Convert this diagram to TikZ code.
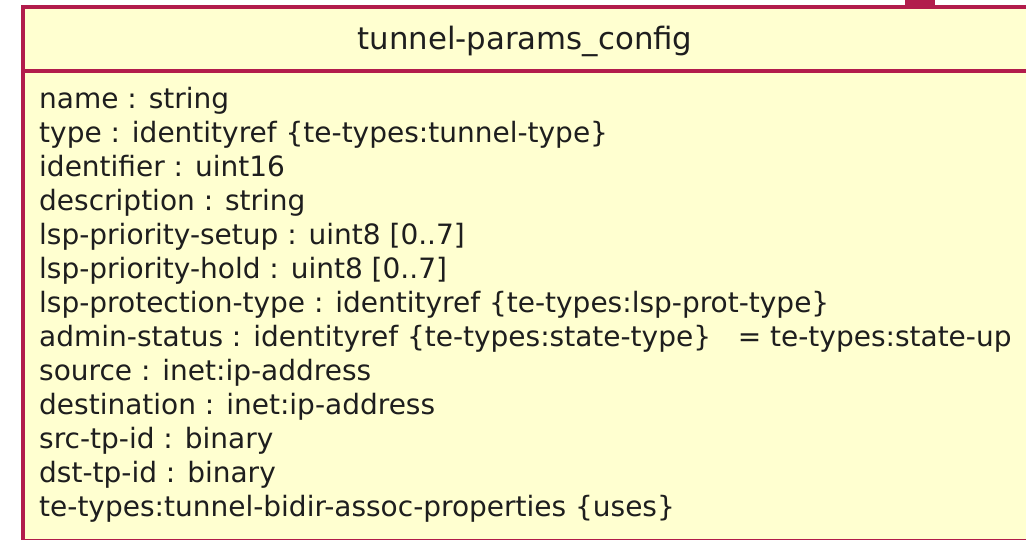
\documentclass[tikz,border=0pt]{standalone}
\usepackage{fontspec}
\setmainfont{DejaVu Sans}
\definecolor{umlborder}{RGB}{178,28,76}
\definecolor{umlfill}{RGB}{255,255,208}
\definecolor{umltext}{RGB}{30,30,30}
\begin{document}
\begin{tikzpicture}[x=1pt,y=-1pt,
  attr/.style={anchor=base west,inner sep=0pt,text=umltext,font=\fontsize{28}{32}\selectfont},
  titletext/.style={anchor=base,inner sep=0pt,text=umltext,font=\fontsize{30.8}{34}\selectfont},
  border/.style={draw=umlborder,line width=3.4pt}]
\useasboundingbox (0,0) rectangle (1026,539);
\fill[white] (0,0) rectangle (1026,539);
\begin{scope}
\clip (0,0) rectangle (1026,539);
\fill[umlborder] (905,0) rectangle (935,7);
\filldraw[border,fill=umlfill] (23,7) rectangle (1027.5,540.5);
\coordinate (sepL) at (23,70.8);
\coordinate (sepR) at (1027.5,70.8);
\draw[border] (sepL) -- (sepR);
\end{scope}
\node[titletext] (title) at (525,49) {tunnel-params\_config};
\node[attr] (a1) at (39,108) {name : string};
\node[attr] (a2) at (39,142.05) {type : identityref \{te-types:tunnel-type\}};
\node[attr] (a3) at (39,176.1) {identifier : uint16};
\node[attr] (a4) at (39,210.15) {description : string};
\node[attr] (a5) at (39,244.2) {lsp-priority-setup : uint8 [0..7]};
\node[attr] (a6) at (39,278.25) {lsp-priority-hold : uint8 [0..7]};
\node[attr] (a7) at (39,312.3) {lsp-protection-type : identityref \{te-types:lsp-prot-type\}};
\node[attr] (a8) at (39,346.35) {admin-status : identityref \{te-types:state-type\}\ \ \ = te-types:state-up};
\node[attr] (a9) at (39,380.4) {source : inet:ip-address};
\node[attr] (a10) at (39,414.45) {destination : inet:ip-address};
\node[attr] (a11) at (39,448.5) {src-tp-id : binary};
\node[attr] (a12) at (39,482.55) {dst-tp-id : binary};
\node[attr] (a13) at (39,516.6) {te-types:tunnel-bidir-assoc-properties \{uses\}};
\end{tikzpicture}
\end{document}
